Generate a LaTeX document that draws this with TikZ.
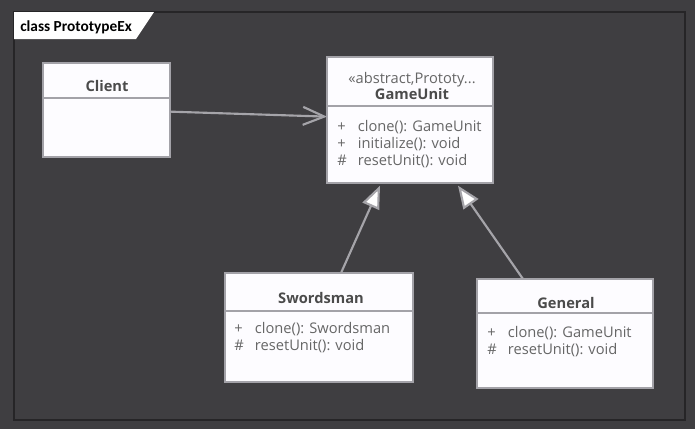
\documentclass[tikz,border=0pt]{standalone}
\usepackage{fontspec}
\setmainfont{Open Sans}
\newfontfamily\tabfont{Carlito}
\usetikzlibrary{arrows.meta}
\definecolor{bg}{HTML}{3F3E41}
\definecolor{frameline}{HTML}{262527}
\definecolor{boxline}{HTML}{A3A2A8}
\definecolor{boxfill}{HTML}{FDFCFF}
\definecolor{wire}{HTML}{A5A4A9}
\definecolor{headtext}{HTML}{4B4B4B}
\definecolor{membertext}{HTML}{666666}
\tikzset{
head/.style={draw=boxline, fill=boxfill, line width=2pt, anchor=north west, inner sep=0pt, outer sep=0pt},
body/.style={head},
classname/.style={anchor=base, font=\fontsize{11}{13}\selectfont\bfseries, text=headtext, inner sep=0pt},
stereo/.style={anchor=base, font=\fontsize{11}{13}\selectfont, text=membertext, inner sep=0pt},
members/.style={anchor=base west, font=\fontsize{11}{13.1}\selectfont, text=membertext, inner sep=0pt},
assoc/.style={draw=wire, line width=1.6pt, -{Straight Barb[length=16pt,width=13.5pt]}},
inherit/.style={draw=wire, line width=1.6pt, -{Triangle[open,length=17pt,width=13.5pt,fill=white]}},
}
\begin{document}
\begin{tikzpicture}[x=0.75pt,y=-0.75pt]
\useasboundingbox (0,0) rectangle (695,429);
\fill[bg] (0,0) rectangle (695,429);
\draw[frameline, line width=0.8pt] (14,12) rectangle (685,420);
\fill[white] (14,12) -- (154,12) -- (136,39) -- (14,39) -- cycle;
\node[anchor=base west, inner sep=0pt, font=\tabfont\fontsize{11.5}{13}\selectfont\bfseries] (title) at (20,31) {class PrototypeEx};
\newcommand\classbox[6]{
\node[head, minimum width=#4, minimum height=#5] (#1) at (#2,#3) {};
\node[body, minimum width=#4, minimum height=#6] (#1m) at (#1.south west) {};
}
\classbox{client}{43}{63}{95.25pt}{26.25pt}{44.25pt}
\node[classname] (clientname) at (107,91) {Client};
\classbox{gameunit}{327}{57}{124.5pt}{36.75pt}{57.75pt}
\node[stereo] (gameunitst) at (412,83) {«abstract,Prototy...};
\node[classname] (gameunitname) at (412,99) {GameUnit};
\node[members] (gameunitlist) at (337,131) {\begin{tabular}[t]{@{}p{15.5pt}@{}l@{}}+&clone(): GameUnit\\+&initialize(): void\\\#&resetUnit(): void\end{tabular}};
\classbox{swordsman}{225}{273}{141pt}{28.5pt}{53.25pt}
\node[classname] (swordsmanname) at (321,303) {Swordsman};
\node[members] (swordsmanlist) at (234,333) {\begin{tabular}[t]{@{}p{15.5pt}@{}l@{}}+&clone(): Swordsman\\\#&resetUnit(): void\end{tabular}};
\classbox{general}{477}{279}{132pt}{25.5pt}{56.25pt}
\node[classname] (generalname) at (566,308) {General};
\node[members] (generallist) at (487,337) {\begin{tabular}[t]{@{}p{15.5pt}@{}l@{}}+&clone(): GameUnit\\\#&resetUnit(): void\end{tabular}};
\path[assoc] ([yshift=11.9pt]clientm.east) -- ([yshift=20.9pt]gameunitm.west);
\path[inherit] ([xshift=16.5pt]swordsman.north) -- ([xshift=-22.5pt,yshift=-2pt]gameunitm.south);
\path[inherit] ([xshift=-31.5pt]general.north) -- ([xshift=36pt,yshift=-2pt]gameunitm.south);
\end{tikzpicture}
\end{document}
